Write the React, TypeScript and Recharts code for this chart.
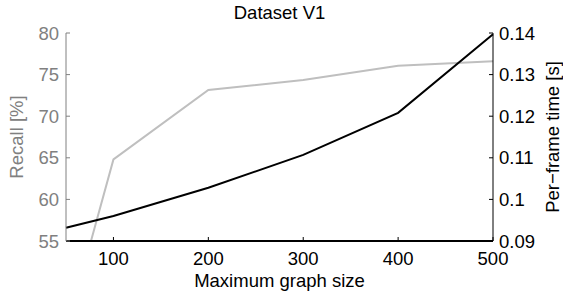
import React from "react";
import { ComposedChart, Line, XAxis, YAxis } from "recharts";

// values
const graphSizes = [50, 100, 200, 300, 400, 500];
const recallPct = [44.1, 64.8, 73.15, 74.35, 76.05, 76.6];
const frameTimeSec = [0.0932, 0.096, 0.1028, 0.1107, 0.1208, 0.1397];

const xTicks = [100, 200, 300, 400, 500];
const recallTicks = [55, 60, 65, 70, 75, 80];
const timeTicks = [0.09, 0.1, 0.11, 0.12, 0.13, 0.14];

const data = graphSizes.map((size, i) => ({
  size,
  recall: recallPct[i],
  time: frameTimeSec[i],
}));

const FONT = "'Liberation Sans', Arial, Helvetica, sans-serif";
const GRAY_TEXT = "#808080";
const GRAY_LINE = "#bfbfbf";

const BottomTick = (props: any) => {
  const { x, y, payload } = props;
  return (
    <g>
      <line x1={x} y1={y} x2={x} y2={y - 4} stroke="#000" strokeWidth={1} />
      <text x={x} y={y + 24} textAnchor="middle" fontSize={18.5} fontFamily={FONT} fill="#000">
        {payload.value}
      </text>
    </g>
  );
};

const TopTick = (props: any) => {
  const { x, y } = props;
  return <line x1={x} y1={y} x2={x} y2={y + 4} stroke="#000" strokeWidth={1} />;
};

const LeftTick = (props: any) => {
  const { x, y, payload } = props;
  return (
    <g>
      <line x1={x} y1={y} x2={x + 4} y2={y} stroke={GRAY_TEXT} strokeWidth={1} />
      <text x={x - 7} y={y + 6.5} textAnchor="end" fontSize={18.5} fontFamily={FONT} fill={GRAY_TEXT}>
        {payload.value}
      </text>
    </g>
  );
};

const RightTick = (props: any) => {
  const { x, y, payload } = props;
  return (
    <g>
      <line x1={x} y1={y} x2={x - 4} y2={y} stroke="#000" strokeWidth={1} />
      <text x={x + 6} y={y + 6.5} textAnchor="start" fontSize={18.5} fontFamily={FONT} fill="#000">
        {payload.value}
      </text>
    </g>
  );
};

export default function App() {
  return (
    <div style={{ position: "absolute", left: 0, top: 0, width: 563, height: 292, background: "#fff" }}>
      <ComposedChart
        width={563}
        height={292}
        data={data}
        margin={{ top: 33, right: 0, bottom: 0, left: 0 }}
      >
        <XAxis
          xAxisId="bottom"
          dataKey="size"
          type="number"
          domain={[50, 500]}
          ticks={xTicks}
          height={51}
          tickSize={0}
          tickMargin={0}
          tickLine={false}
          tick={<BottomTick />}
          axisLine={{ stroke: "#000", strokeWidth: 2 }}
          interval={0}
        />
        <XAxis
          xAxisId="top"
          orientation="top"
          dataKey="size"
          type="number"
          domain={[50, 500]}
          ticks={xTicks}
          height={0}
          tickSize={0}
          tickMargin={0}
          tickLine={false}
          tick={<TopTick />}
          axisLine={{ stroke: "#000", strokeWidth: 1.5 }}
          interval={0}
        />
        <YAxis
          yAxisId="recall"
          orientation="left"
          type="number"
          domain={[55, 80]}
          ticks={recallTicks}
          allowDataOverflow
          width={66}
          tickSize={0}
          tickMargin={0}
          tickLine={false}
          tick={<LeftTick />}
          axisLine={{ stroke: GRAY_TEXT, strokeWidth: 1 }}
          interval={0}
        />
        <YAxis
          yAxisId="time"
          orientation="right"
          type="number"
          domain={[0.09, 0.14]}
          ticks={timeTicks}
          allowDataOverflow
          width={70}
          tickSize={0}
          tickMargin={0}
          tickLine={false}
          tick={<RightTick />}
          axisLine={{ stroke: "#000", strokeWidth: 1 }}
          interval={0}
        />
        <Line
          xAxisId="bottom"
          yAxisId="recall"
          dataKey="recall"
          type="linear"
          stroke={GRAY_LINE}
          strokeWidth={2}
          dot={false}
          isAnimationActive={false}
        />
        <Line
          xAxisId="bottom"
          yAxisId="time"
          dataKey="time"
          type="linear"
          stroke="#000"
          strokeWidth={2}
          dot={false}
          isAnimationActive={false}
        />
      </ComposedChart>
      <svg
        width={563}
        height={292}
        style={{ position: "absolute", left: 0, top: 0, pointerEvents: "none" }}
      >
        <text x={279.5} y={18.5} textAnchor="middle" fontSize={18.5} fontFamily={FONT} fill="#000">
          Dataset V1
        </text>
        <text x={279.5} y={286.5} textAnchor="middle" fontSize={18.5} fontFamily={FONT} fill="#000">
          Maximum graph size
        </text>
        <text
          x={22.5}
          y={137}
          transform="rotate(-90 22.5 137)"
          textAnchor="middle"
          fontSize={18.5}
          fontFamily={FONT}
          fill={GRAY_TEXT}
        >
          Recall [%]
        </text>
        <text
          x={559}
          y={137}
          transform="rotate(-90 559 137)"
          textAnchor="middle"
          fontSize={18.5}
          fontFamily={FONT}
          fill="#000"
        >
          Per−frame time [s]
        </text>
      </svg>
    </div>
  );
}
